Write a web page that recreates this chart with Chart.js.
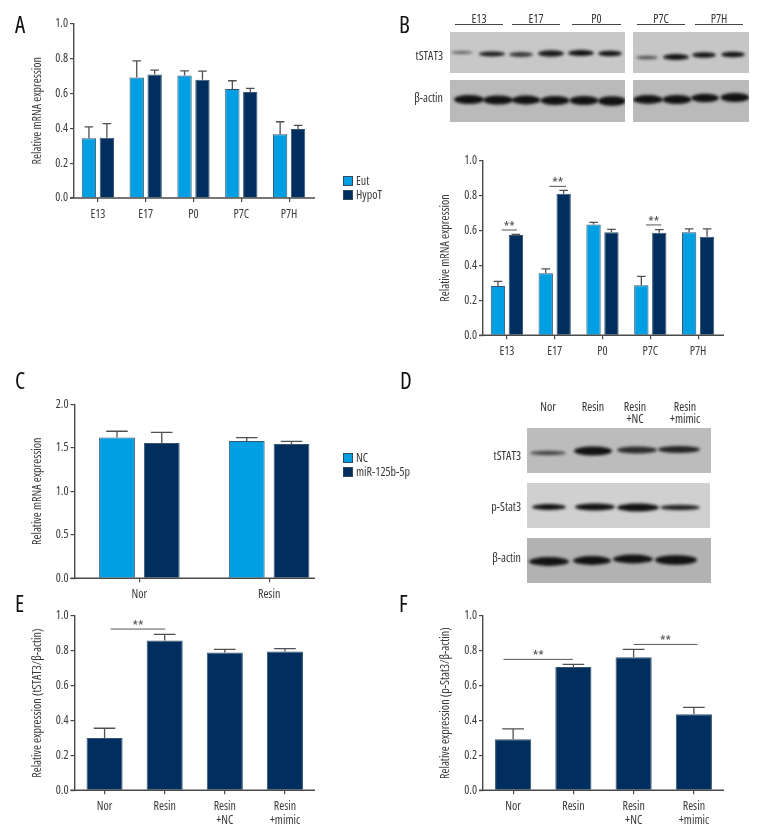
<!DOCTYPE html>
<html>
<head>
<meta charset="utf-8">
<title>Panels A-F</title>
<script src="https://cdn.jsdelivr.net/npm/chart.js@4/dist/chart.umd.min.js"></script>
<style>
  html, body { margin: 0; background: #fff; }
  #page { position: relative; width: 780px; height: 840px; overflow: hidden; font-family: "Open Sans", sans-serif; font-stretch: condensed; color: #333; }
  #page canvas { position: absolute; }
  .txt { position: absolute; font-size: 12px; line-height: 13px; white-space: nowrap; }
  .letter { position: absolute; font-size: 23px; line-height: 23px; color: #111; }
  .rule { position: absolute; height: 1px; background: #444; }
</style>
</head>
<body>
<div id="page"><canvas id="blots" width="780" height="840" style="left:0;top:0"></canvas></div>
<script>
// Data
const stages = ['E13', 'E17', 'P0', 'P7C', 'P7H'];
const groupsC = ['Nor', 'Resin'];
const groupsEF = ['Nor', 'Resin', ['Resin', '+NC'], ['Resin', '+mimic']];

const aEut = [0.342, 0.691, 0.702, 0.624, 0.366];
const aEutTop = [0.408, 0.786, 0.729, 0.672, 0.437];
const aHypoT = [0.345, 0.708, 0.677, 0.607, 0.395];
const aHypoTTop = [0.426, 0.733, 0.727, 0.628, 0.416];

const bEut = [0.282, 0.355, 0.635, 0.286, 0.590];
const bEutTop = [0.309, 0.380, 0.647, 0.338, 0.609];
const bHypoT = [0.574, 0.811, 0.590, 0.588, 0.565];
const bHypoTTop = [0.578, 0.830, 0.607, 0.605, 0.609];

const cNC = [1.617, 1.579];
const cNCTop = [1.690, 1.617];
const cMiR = [1.556, 1.544];
const cMiRTop = [1.678, 1.575];

const eValues = [0.300, 0.859, 0.790, 0.797];
const eTop = [0.356, 0.895, 0.809, 0.813];
const fValues = [0.293, 0.707, 0.763, 0.436];
const fTop = [0.352, 0.723, 0.809, 0.476];

const ticks01 = [0, 0.2, 0.4, 0.6, 0.8, 1.0];
const ticks02 = [0, 0.5, 1.0, 1.5, 2.0];

const LIGHT = '#009fe3';
const DARK = '#002f5f';
const FONT = '"Open Sans", sans-serif';
// Chart.js puts "weight" right before the size in the font string, so this gives the condensed face
const AXIS_FONT = { family: FONT, size: 12, weight: 'condensed' };
const INK = '#3a3a3a';
const AXIS = '#4a4a4a';

// Error bars, significance lines, x axis line and the legend
const extras = {
  id: 'extras',
  afterDatasetsDraw(chart, args, opts) {
    const ctx = chart.ctx, x = chart.scales.x, y = chart.scales.y;
    ctx.save();
    ctx.strokeStyle = '#505050';
    ctx.lineWidth = 1.3;
    chart.data.datasets.forEach((ds, i) => {
      chart.getDatasetMeta(i).data.forEach((bar, j) => {
        const top = y.getPixelForValue(ds.errTop[j]);
        const half = bar.width * 0.3;
        ctx.beginPath();
        ctx.moveTo(bar.x, bar.y);
        ctx.lineTo(bar.x, top);
        ctx.moveTo(bar.x - half, top);
        ctx.lineTo(bar.x + half, top);
        ctx.stroke();
      });
    });
    // x axis line
    ctx.strokeStyle = AXIS;
    ctx.lineWidth = 1.4;
    ctx.beginPath();
    ctx.moveTo(chart.chartArea.left - 4, y.getPixelForValue(0));
    ctx.lineTo(opts.axisEnd, y.getPixelForValue(0));
    ctx.stroke();
    // ** markers
    (opts.sig || []).forEach(s => {
      const py = y.getPixelForValue(s.level);
      const x1 = x.getPixelForValue(s.from), x2 = x.getPixelForValue(s.to);
      ctx.strokeStyle = '#555';
      ctx.lineWidth = 1;
      ctx.beginPath();
      ctx.moveTo(x1, py);
      ctx.lineTo(x2, py);
      ctx.stroke();
      ctx.fillStyle = '#4a4a4a';
      ctx.font = 'condensed 14px ' + FONT;
      ctx.textAlign = 'center';
      ctx.textBaseline = 'alphabetic';
      ctx.fillText('**', (x1 + x2) / 2, py + 2);
    });
    // legend
    if (opts.legend) {
      chart.data.datasets.forEach((ds, i) => {
        const ly = opts.legend.y + i * 14;
        ctx.fillStyle = ds.backgroundColor;
        ctx.strokeStyle = '#2f4a5e';
        ctx.lineWidth = 1;
        ctx.fillRect(opts.legend.x, ly, 10, 10);
        ctx.strokeRect(opts.legend.x + 0.5, ly + 0.5, 9, 9);
        ctx.fillStyle = INK;
        ctx.font = 'condensed 12px ' + FONT;
        ctx.textAlign = 'left';
        ctx.textBaseline = 'middle';
        ctx.fillText(ds.label, opts.legend.x + 13, ly + 5.5);
      });
    }
    ctx.restore();
  }
};

function barSet(label, values, errTop, color, catPct, barPct) {
  return {
    label, data: values, errTop,
    backgroundColor: color,
    borderColor: '#35566e',
    borderWidth: 1,
    categoryPercentage: catPct,
    barPercentage: barPct
  };
}

// box: canvas rectangle, area: where the plot area must land on the page
function panel(box, area, labels, sets, yTicks, yMax, yTitle, extraOpts) {
  const c = document.createElement('canvas');
  c.style.left = box.x + 'px';
  c.style.top = box.y + 'px';
  document.getElementById('page').appendChild(c);
  c.width = box.w;
  c.height = box.h;
  new Chart(c.getContext('2d'), {
    type: 'bar',
    data: { labels, datasets: sets },
    plugins: [extras],
    options: {
      responsive: false,
      animation: false,
      layout: { padding: { left: area.titleX - box.x, top: area.top - box.y, right: box.x + box.w - area.right, bottom: 0 } },
      plugins: { legend: { display: false }, tooltip: { enabled: false }, extras: extraOpts },
      scales: {
        x: {
          grid: { offset: false, drawOnChartArea: false, tickLength: 4, color: AXIS, lineWidth: 1.2 },
          border: { display: false },
          ticks: { color: INK, padding: 6, maxRotation: 0, autoSkip: false, font: { ...AXIS_FONT, lineHeight: 1.12 } },
          afterFit: s => { s.height = box.y + box.h - area.bottom; }
        },
        y: {
          min: 0, max: yMax,
          grid: { drawOnChartArea: false, tickLength: 4, color: AXIS, lineWidth: 1.2 },
          border: { color: AXIS, width: 1.4 },
          afterBuildTicks: s => { s.ticks = yTicks.map(v => ({ value: v })); },
          ticks: { color: INK, padding: 2, font: AXIS_FONT, callback: v => v.toFixed(1) },
          title: { display: true, text: yTitle, color: INK, padding: 0, font: AXIS_FONT },
          afterFit: s => { s.width = area.left - area.titleX; }
        }
      }
    }
  });
}

const MRNA = 'Relative mRNA expression';

panel({ x: 0, y: 0, w: 420, h: 240 }, { titleX: 30, left: 74, right: 313, top: 23.5, bottom: 198 },
  stages,
  [barSet('Eut', aEut, aEutTop, LIGHT, 0.75, 0.8), barSet('HypoT', aHypoT, aHypoTTop, DARK, 0.75, 0.8)],
  ticks01, 1, MRNA, { axisEnd: 315, legend: { x: 343, y: 176 } });

panel({ x: 420, y: 140, w: 360, h: 230 }, { titleX: 438, left: 483, right: 722, top: 160.7, bottom: 335.3 },
  stages,
  [barSet('Eut', bEut, bEutTop, LIGHT, 0.75, 0.8), barSet('HypoT', bHypoT, bHypoTTop, DARK, 0.75, 0.8)],
  ticks01, 1, MRNA,
  { axisEnd: 304, sig: [
    { from: -0.11, to: 0.21, level: 0.603 },
    { from: 0.89, to: 1.24, level: 0.853 },
    { from: 2.91, to: 3.23, level: 0.632 }
  ] });

panel({ x: 0, y: 385, w: 420, h: 220 }, { titleX: 30, left: 74.5, right: 334, top: 404.3, bottom: 578.3 },
  groupsC,
  [barSet('NC', cNC, cNCTop, LIGHT, 0.69, 0.8), barSet('miR-125b-5p', cMiR, cMiRTop, DARK, 0.69, 0.8)],
  ticks02, 2, MRNA, { axisEnd: 315, legend: { x: 343, y: 68 } });

panel({ x: 0, y: 595, w: 400, h: 245 }, { titleX: 30, left: 74.5, right: 315, top: 616, bottom: 790.3 },
  groupsEF,
  [barSet('E', eValues, eTop, DARK, 0.6, 1)],
  ticks01, 1, 'Relative expression (tSTAT3/\u03b2-actin)',
  { axisEnd: 315, sig: [{ from: 0.1, to: 1.01, level: 0.925 }] });

panel({ x: 400, y: 595, w: 380, h: 245 }, { titleX: 438, left: 483, right: 724, top: 616, bottom: 790.3 },
  groupsEF,
  [barSet('F', fValues, fTop, DARK, 0.6, 1)],
  ticks01, 1, 'Relative expression (p-Stat3/\u03b2-actin)',
  { axisEnd: 324, sig: [
    { from: -0.16, to: 0.99, level: 0.751 },
    { from: 2.0, to: 3.06, level: 0.837 }
  ] });

// Page text that is not on a chart axis
function addText(cls, text, x, y, align) {
  const d = document.createElement('div');
  d.className = cls;
  d.textContent = text;
  d.style.top = y + 'px';
  if (align === 'right') d.style.right = (780 - x) + 'px';
  else if (align === 'center') { d.style.left = x + 'px'; d.style.transform = 'translateX(-50%)'; }
  else d.style.left = x + 'px';
  document.getElementById('page').appendChild(d);
}
addText('letter', 'A', 15, 13);
addText('letter', 'B', 399, 13);
addText('letter', 'C', 15, 369);
addText('letter', 'D', 400, 369);
addText('letter', 'E', 15, 592);
addText('letter', 'F', 399, 592);

const bHeads = [['E13', 479, 455, 48], ['E17', 536, 512, 48], ['P0', 596.5, 572, 49], ['P7C', 661, 637, 48], ['P7H', 719, 695, 48]];
bHeads.forEach(h => {
  addText('txt', h[0], h[1], 12, 'center');
  const r = document.createElement('div');
  r.className = 'rule';
  r.style.left = h[2] + 'px';
  r.style.top = '24px';
  r.style.width = h[3] + 'px';
  document.getElementById('page').appendChild(r);
});
addText('txt', 'tSTAT3', 443, 49, 'right');
addText('txt', '\u03b2-actin', 443, 91, 'right');

addText('txt', 'Nor', 548, 400, 'center');
addText('txt', 'Resin', 593, 400, 'center');
addText('txt', 'Resin', 635, 400, 'center');
addText('txt', '+NC', 635, 412, 'center');
addText('txt', 'Resin', 685, 400, 'center');
addText('txt', '+mimic', 685, 412, 'center');
addText('txt', 'tSTAT3', 521, 449, 'right');
addText('txt', 'p-Stat3', 521, 500, 'right');
addText('txt', '\u03b2-actin', 521, 551, 'right');

// Western blot strips, painted behind the charts: [x, y, w, h, grey, bands]
// band: [centre x, centre y, half width, half height, darkness]
const blotStrips = [
  [450, 32, 175, 41, 200, [[462, 52.5, 11, 1.4, .6], [492, 54, 13, 2.4, .95], [521, 54.5, 12, 2.6, .8], [551, 53.5, 13, 3.2, .95], [581, 53, 13, 3, 1], [610, 53.5, 12, 2.8, 1]]],
  [633, 32, 116, 41, 198, [[647, 57.5, 11, 1.8, .65], [676, 57, 13, 3, 1], [704, 55, 12, 2.8, 1], [733, 54.5, 12, 2.8, 1]]],
  [450, 80, 175, 42, 186, [[469, 99.5, 15, 4.6, 1], [498, 100, 15, 4.6, 1], [526, 100, 14.5, 4.4, 1], [555, 100.5, 14.5, 4.6, 1], [584, 100.5, 14.5, 4.6, 1], [612, 101, 14, 4.8, 1]]],
  [633, 80, 116, 42, 186, [[648, 99.5, 15, 4.4, 1], [677, 99.5, 14.5, 4.6, 1], [705, 98, 14, 4.2, 1], [735, 97.5, 14.5, 4.6, 1]]],
  [527, 428, 184, 45, 188, [[548, 453, 18, 2.2, .7], [593, 451, 19, 4.6, 1], [637, 450, 20, 3.4, .85], [679, 449.5, 21, 3.4, .9]]],
  [527, 483, 183, 45, 208, [[549, 507, 17, 3, 1], [595, 507, 20, 3.4, 1], [638, 507.5, 21, 4, 1], [680, 507.5, 20, 2.8, .9]]],
  [527, 538, 184, 45, 178, [[549, 561.5, 20, 4.4, 1], [592, 560.5, 19, 4.4, 1], [633, 559, 20, 4.4, 1], [676, 560, 21, 4.8, 1]]]
];

const bctx = document.getElementById('blots').getContext('2d');
blotStrips.forEach(s => {
  const [x, y, w, h, g, bands] = s;
  bctx.save();
  bctx.beginPath();
  bctx.rect(x, y, w, h);
  bctx.clip();
  bctx.fillStyle = `rgb(${g},${g},${g})`;
  bctx.fillRect(x, y, w, h);
  bctx.filter = 'blur(1.4px)';
  bands.forEach(b => {
    bctx.fillStyle = `rgba(18,18,18,${b[4]})`;
    bctx.beginPath();
    bctx.ellipse(b[0], b[1], b[2], b[3], 0, 0, Math.PI * 2);
    bctx.fill();
  });
  bctx.restore();
});
</script>
</body>
</html>
